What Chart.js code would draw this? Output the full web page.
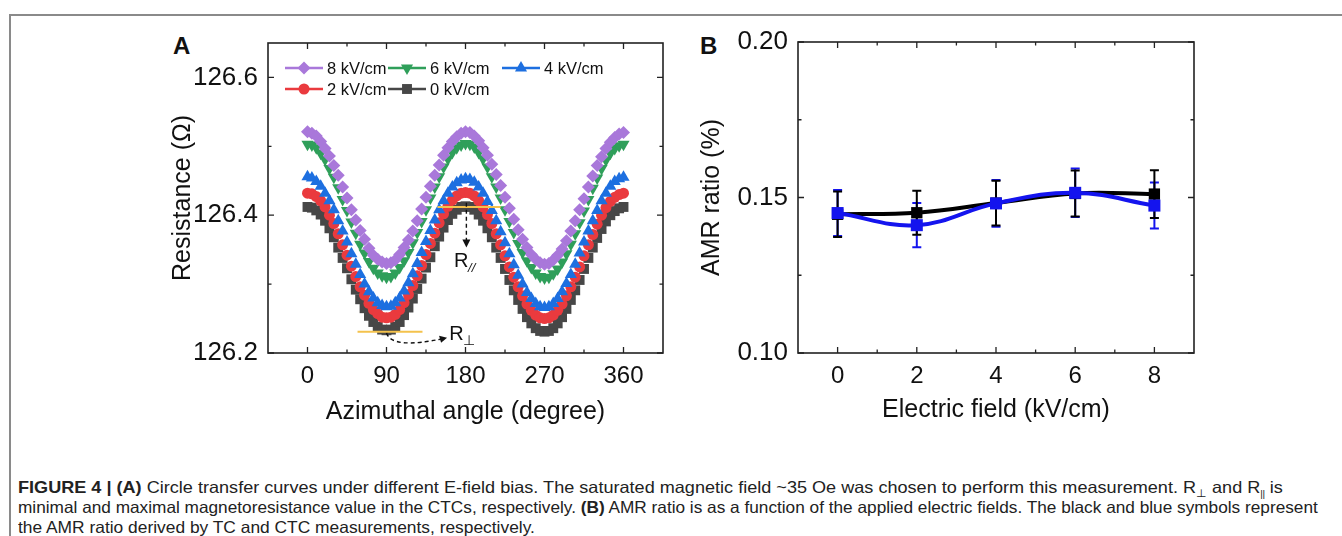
<!DOCTYPE html>
<html>
<head>
<meta charset="utf-8">
<script src="https://cdn.jsdelivr.net/npm/chart.js@4.4.0/dist/chart.umd.min.js"></script>
<style>
  body { margin: 0; background: #fff; width: 1342px; height: 536px; overflow: hidden; position: relative;
         font-family: "Liberation Sans", Arial, sans-serif; }
  #frame { position: absolute; left: 9px; top: 14px; right: 0; bottom: -5px;
           border-top: 2px solid #8a8a8a; border-left: 2px solid #8a8a8a; }
  .wrap { position: absolute; top: 20px; width: 530px; height: 410px; }
  #wrapA { left: 150px; }
  #wrapB { left: 680px; }
  .panel { position: absolute; font-weight: bold; font-size: 24px; color: #111; line-height: 1; }
  .cap { position: absolute; left: 18px; white-space: nowrap; font-size: 16.5px; line-height: 20px; color: #222;
         font-family: "Liberation Sans Narrow", "Liberation Sans", Arial, sans-serif; transform-origin: 0 0; }
  .cap sub { font-size: 11px; line-height: 0; }
  .cap sub.par { font-size: 9px; letter-spacing: -0.3px; font-weight: normal; }
</style>
</head>
<body>
<div id="frame"></div>
<div class="panel" style="left:173px;top:34px">A</div>
<div class="panel" style="left:700px;top:34px">B</div>
<div class="wrap" id="wrapA"><canvas id="chartA"></canvas></div>
<div class="wrap" id="wrapB"><canvas id="chartB"></canvas></div>

<div class="cap" data-w="1265" style="top:477px"><b>FIGURE 4 | (A)</b> Circle transfer curves under different E-field bias. The saturated magnetic field ~35 Oe was chosen to perform this measurement. R<sub>⊥</sub> and R<sub class="par">||</sub> is</div>
<div class="cap" data-w="1300" style="top:497px">minimal and maximal magnetoresistance value in the CTCs, respectively. <b>(B)</b> AMR ratio is as a function of the applied electric fields. The black and blue symbols represent</div>
<div class="cap" data-w="517" style="top:517px">the AMR ratio derived by TC and CTC measurements, respectively.</div>

<script>
// ---- panel A data: resistance vs azimuthal angle ----
var angles = [0,5,10,15,20,25,30,35,40,45,50,55,60,65,70,75,80,85,90,
  95,100,105,110,115,120,125,130,135,140,145,150,155,160,165,170,175,180,
  185,190,195,200,205,210,215,220,225,230,235,240,245,250,255,260,265,270,
  275,280,285,290,295,300,305,310,315,320,325,330,335,340,345,350,355,360];

var r8kV = [126.521,126.519,126.515,126.507,126.497,126.486,126.472,126.458,126.441,126.425,126.408,126.393,126.378,126.365,126.352,126.342,126.336,126.332,126.330,
  126.331,126.335,126.343,126.353,126.364,126.377,126.392,126.409,126.426,126.442,126.458,126.473,126.487,126.498,126.507,126.514,126.519,126.521,
  126.520,126.515,126.508,126.498,126.487,126.474,126.459,126.443,126.426,126.410,126.394,126.379,126.365,126.353,126.343,126.336,126.331,126.329,
  126.330,126.335,126.342,126.351,126.363,126.377,126.392,126.408,126.424,126.441,126.457,126.472,126.485,126.497,126.506,126.513,126.518,126.520];

var r6kV = [126.503,126.502,126.498,126.490,126.481,126.468,126.455,126.440,126.423,126.407,126.390,126.374,126.358,126.345,126.333,126.323,126.316,126.312,126.310,
  126.311,126.316,126.324,126.334,126.346,126.360,126.375,126.391,126.408,126.425,126.441,126.456,126.470,126.482,126.491,126.498,126.502,126.504,
  126.503,126.499,126.491,126.482,126.470,126.456,126.441,126.425,126.408,126.391,126.375,126.359,126.346,126.334,126.324,126.316,126.311,126.309,
  126.310,126.315,126.322,126.332,126.344,126.358,126.373,126.389,126.406,126.423,126.439,126.454,126.468,126.480,126.490,126.497,126.501,126.503];

var r4kV = [126.456,126.454,126.449,126.442,126.432,126.421,126.408,126.392,126.377,126.361,126.344,126.329,126.314,126.300,126.289,126.280,126.273,126.269,126.267,
  126.268,126.273,126.280,126.290,126.302,126.315,126.330,126.346,126.362,126.378,126.393,126.408,126.421,126.432,126.441,126.447,126.451,126.453,
  126.452,126.448,126.441,126.432,126.420,126.407,126.392,126.376,126.360,126.344,126.328,126.313,126.300,126.288,126.279,126.272,126.267,126.266,
  126.267,126.272,126.279,126.289,126.301,126.314,126.329,126.345,126.361,126.377,126.392,126.407,126.421,126.432,126.442,126.449,126.453,126.455];

var r2kV = [126.432,126.431,126.427,126.421,126.412,126.400,126.388,126.373,126.357,126.342,126.326,126.311,126.296,126.284,126.272,126.263,126.257,126.252,126.251,
  126.252,126.256,126.263,126.273,126.285,126.298,126.312,126.327,126.343,126.359,126.374,126.389,126.402,126.413,126.422,126.428,126.432,126.433,
  126.432,126.428,126.421,126.412,126.401,126.388,126.373,126.357,126.341,126.325,126.310,126.296,126.283,126.271,126.262,126.255,126.251,126.250,
  126.251,126.255,126.262,126.271,126.283,126.296,126.310,126.325,126.341,126.357,126.372,126.387,126.400,126.411,126.420,126.426,126.430,126.432];

var r0kV = [126.412,126.411,126.407,126.401,126.392,126.381,126.368,126.353,126.338,126.323,126.307,126.292,126.278,126.265,126.254,126.245,126.238,126.234,126.233,
  126.234,126.238,126.245,126.255,126.266,126.279,126.293,126.308,126.324,126.339,126.355,126.369,126.382,126.393,126.402,126.408,126.412,126.413,
  126.412,126.408,126.401,126.392,126.381,126.368,126.353,126.338,126.322,126.306,126.291,126.277,126.264,126.252,126.243,126.236,126.232,126.231,
  126.232,126.236,126.243,126.252,126.264,126.277,126.291,126.306,126.322,126.338,126.353,126.367,126.380,126.391,126.400,126.406,126.410,126.412];

var angleTicks = [0, 90, 180, 270, 360];
var angleMinor = [45, 135, 225, 315];
var resTicks = [126.2, 126.4, 126.6];
var resMinor = [126.3, 126.5];

// ---- panel B data: AMR ratio vs electric field ----
var fields = [0, 2, 4, 6, 8];
var amrTC = [0.1446, 0.1451, 0.1482, 0.1513, 0.1511];
var amrTCErr = [0.0073, 0.0071, 0.0072, 0.0074, 0.0077];
var amrCTC = [0.1450, 0.1411, 0.1481, 0.1515, 0.1474];
var amrCTCErr = [0.0074, 0.0071, 0.0075, 0.0078, 0.0074];

var fieldTicks = [0, 2, 4, 6, 8];
var fieldMinor = [1, 3, 5, 7];
var amrTicks = [0.10, 0.15, 0.20];
var amrMinor = [0.125, 0.175];

var FONT = "'Liberation Sans', Arial, sans-serif";
Chart.defaults.font.family = FONT;
Chart.defaults.color = '#111';

function pts(xs, ys) {
  return xs.map(function(x, i) { return {x: x, y: ys[i]}; });
}

function fixTicks(vals) {
  return function(scale) {
    scale.ticks = vals.map(function(v) { return {value: v}; });
  };
}

// box around plot area with inward ticks on all four sides
function boxTicks(xMaj, xMin, yMaj, yMin) {
  return {
    id: 'boxTicks',
    afterDraw: function(chart) {
      var ctx = chart.ctx, a = chart.chartArea;
      var sx = chart.scales.x, sy = chart.scales.y;
      ctx.save();
      ctx.strokeStyle = '#222';
      ctx.lineWidth = 1.6;
      ctx.strokeRect(a.left, a.top, a.right - a.left, a.bottom - a.top);
      ctx.lineWidth = 1.3;
      ctx.beginPath();
      function xt(v, len) {
        var p = sx.getPixelForValue(v);
        ctx.moveTo(p, a.bottom); ctx.lineTo(p, a.bottom - len);
        ctx.moveTo(p, a.top); ctx.lineTo(p, a.top + len);
      }
      function yt(v, len) {
        var p = sy.getPixelForValue(v);
        ctx.moveTo(a.left, p); ctx.lineTo(a.left + len, p);
        ctx.moveTo(a.right, p); ctx.lineTo(a.right - len, p);
      }
      xMaj.forEach(function(v) { xt(v, 6); });
      xMin.forEach(function(v) { xt(v, 3.5); });
      yMaj.forEach(function(v) { yt(v, 6); });
      yMin.forEach(function(v) { yt(v, 3.5); });
      ctx.stroke();
      ctx.restore();
    }
  };
}

// legend inside panel A: line segment + marker + label
var legendA = {
  id: 'legendA',
  afterDraw: function(chart) {
    var ctx = chart.ctx;
    var spots = [[135, 48], [238, 48], [352, 48], [135, 69], [238, 69]];
    ctx.save();
    chart.data.datasets.forEach(function(ds, i) {
      var s = spots[i];
      ctx.strokeStyle = ds.borderColor;
      ctx.fillStyle = ds.backgroundColor;
      ctx.lineWidth = 2.5;
      ctx.beginPath();
      ctx.moveTo(s[0], s[1]); ctx.lineTo(s[0] + 38, s[1]);
      ctx.stroke();
      Chart.helpers.drawPoint(ctx, {pointStyle: ds.pointStyle, radius: ds.pointRadius,
        rotation: ds.pointRotation || 0, borderWidth: 0}, s[0] + 19, s[1]);
      ctx.fillStyle = '#111';
      ctx.font = '16.5px ' + FONT;
      ctx.textBaseline = 'middle';
      ctx.fillText(ds.label, s[0] + 42, s[1] + 1);
    });
    ctx.restore();
  }
};

// R_parallel / R_perp markers drawn in data coordinates
var annoA = {
  id: 'annoA',
  afterDatasetsDraw: function(chart) {
    var ctx = chart.ctx, sx = chart.scales.x, sy = chart.scales.y;
    function X(v) { return sx.getPixelForValue(v); }
    function Y(v) { return sy.getPixelForValue(v); }
    ctx.save();
    ctx.strokeStyle = '#f4c24c';
    ctx.lineWidth = 2;
    ctx.beginPath();
    ctx.moveTo(X(148), Y(126.412)); ctx.lineTo(X(220), Y(126.412));
    ctx.moveTo(X(57), Y(126.231)); ctx.lineTo(X(131), Y(126.231));
    ctx.stroke();

    ctx.strokeStyle = '#111';
    ctx.fillStyle = '#111';
    ctx.lineWidth = 1.4;
    ctx.setLineDash([4, 3]);
    ctx.beginPath();
    ctx.moveTo(X(181), Y(126.418)); ctx.lineTo(X(181), Y(126.36));
    ctx.moveTo(X(90), Y(126.229));
    ctx.quadraticCurveTo(X(96), Y(126.205), X(155), Y(126.221));
    ctx.stroke();
    ctx.setLineDash([]);
    // arrow heads
    ctx.beginPath();
    ctx.moveTo(X(181), Y(126.353));
    ctx.lineTo(X(181) - 4, Y(126.353) - 8);
    ctx.lineTo(X(181) + 4, Y(126.353) - 8);
    ctx.closePath();
    ctx.fill();
    var hx = X(159), hy = Y(126.222);
    ctx.beginPath();
    ctx.moveTo(hx, hy);
    ctx.lineTo(hx - 8, hy - 2);
    ctx.lineTo(hx - 6, hy + 5);
    ctx.closePath();
    ctx.fill();

    ctx.font = '20px ' + FONT;
    ctx.textBaseline = 'alphabetic';
    ctx.fillText('R', X(167), Y(126.3255));
    ctx.fillText('R', X(161.5), Y(126.219));
    ctx.font = 'italic 13px ' + FONT;
    ctx.fillText('//', X(167) + 14, Y(126.3255) + 5);
    ctx.font = '14px ' + FONT;
    ctx.fillText('⊥', X(161.5) + 14, Y(126.219) + 5);
    ctx.restore();
  }
};

function seriesA(label, data, color, style, radius, rot) {
  return {
    label: label, data: pts(angles, data),
    backgroundColor: color, borderColor: color,
    pointStyle: style, pointRadius: radius, pointRotation: rot || 0,
    pointBorderWidth: 0, showLine: false
  };
}

new Chart(document.getElementById('chartA'), {
  type: 'scatter',
  data: {
    datasets: [
      seriesA('8 kV/cm', r8kV, '#a978da', 'rectRot', 6.5),
      seriesA('6 kV/cm', r6kV, '#2f9f5a', 'triangle', 7, 180),
      seriesA('4 kV/cm', r4kV, '#1d6fe0', 'triangle', 7),
      seriesA('2 kV/cm', r2kV, '#ea3a3e', 'circle', 5.5),
      seriesA('0 kV/cm', r0kV, '#474747', 'rect', 7)
    ]
  },
  options: {
    responsive: true, maintainAspectRatio: false, animation: false,
    layout: {padding: {top: 23, right: 17, left: 0, bottom: 0}},
    plugins: {legend: {display: false}, tooltip: {enabled: false}},
    scales: {
      x: {
        type: 'linear', min: -45, max: 405,
        grid: {display: false}, border: {display: false},
        afterBuildTicks: fixTicks(angleTicks),
        afterFit: function(s) { s.height = 77; },
        ticks: {font: {size: 24}, color: '#111', padding: 1, maxRotation: 0},
        title: {display: true, text: 'Azimuthal angle (degree)', font: {size: 25}, color: '#111',
                padding: {top: 0, bottom: 3}}
      },
      y: {
        min: 126.2, max: 126.65,
        grid: {display: false}, border: {display: false},
        afterBuildTicks: fixTicks(resTicks),
        afterFit: function(s) { s.width = 118; },
        ticks: {font: {size: 26}, color: '#111', padding: 2,
                callback: function(v) { return v.toFixed(1); }},
        title: {display: true, text: 'Resistance (Ω)', font: {size: 25}, color: '#111',
                padding: {top: 18, bottom: 0}}
      }
    }
  },
  plugins: [boxTicks(angleTicks, angleMinor, resTicks, resMinor), annoA, legendA]
});

// vertical error bars with caps, drawn under the markers
var errorBars = {
  id: 'errorBars',
  beforeDatasetsDraw: function(chart) {
    var ctx = chart.ctx, sx = chart.scales.x, sy = chart.scales.y;
    ctx.save();
    chart.data.datasets.forEach(function(ds) {
      ctx.strokeStyle = ds.borderColor;
      ctx.lineWidth = 2;
      ctx.beginPath();
      ds.data.forEach(function(p, i) {
        var e = ds.errors[i];
        var px = sx.getPixelForValue(p.x);
        var top = sy.getPixelForValue(p.y + e), bot = sy.getPixelForValue(p.y - e);
        ctx.moveTo(px, top); ctx.lineTo(px, bot);
        ctx.moveTo(px - 4.5, top); ctx.lineTo(px + 4.5, top);
        ctx.moveTo(px - 4.5, bot); ctx.lineTo(px + 4.5, bot);
      });
      ctx.stroke();
    });
    ctx.restore();
  }
};

new Chart(document.getElementById('chartB'), {
  type: 'scatter',
  data: {
    datasets: [
      {label: 'CTC', data: pts(fields, amrCTC), errors: amrCTCErr,
       borderColor: '#1414ee', backgroundColor: '#1414ee', borderWidth: 4,
       showLine: true, tension: 0.4, pointStyle: 'rect', pointRadius: 8.5, pointBorderWidth: 0},
      {label: 'TC', data: pts(fields, amrTC), errors: amrTCErr,
       borderColor: '#000000', backgroundColor: '#000000', borderWidth: 4,
       showLine: true, tension: 0.4, pointStyle: 'rect', pointRadius: 8, pointBorderWidth: 0}
    ]
  },
  options: {
    responsive: true, maintainAspectRatio: false, animation: false,
    layout: {padding: {top: 22, right: 16, left: 0, bottom: 0}},
    plugins: {legend: {display: false}, tooltip: {enabled: false}},
    scales: {
      x: {
        type: 'linear', min: -1, max: 9,
        grid: {display: false}, border: {display: false},
        afterBuildTicks: fixTicks(fieldTicks),
        afterFit: function(s) { s.height = 77; },
        ticks: {font: {size: 24}, color: '#111', padding: 1, maxRotation: 0},
        title: {display: true, text: 'Electric field (kV/cm)', font: {size: 25}, color: '#111',
                padding: {top: 0, bottom: 5}}
      },
      y: {
        min: 0.10, max: 0.20,
        grid: {display: false}, border: {display: false},
        afterBuildTicks: fixTicks(amrTicks),
        afterFit: function(s) { s.width = 118; },
        ticks: {font: {size: 26}, color: '#111', padding: 2,
                callback: function(v) { return v.toFixed(2); }},
        title: {display: true, text: 'AMR ratio (%)', font: {size: 25}, color: '#111',
                padding: {top: 17, bottom: 0}}
      }
    }
  },
  plugins: [errorBars, boxTicks(fieldTicks, fieldMinor, amrTicks, amrMinor)]
});

// squeeze each caption line to the width it has in the figure
document.querySelectorAll('.cap').forEach(function(el) {
  var w = +el.getAttribute('data-w');
  el.style.transform = 'scaleX(' + (w / el.scrollWidth) + ')';
});
</script>
</body>
</html>
